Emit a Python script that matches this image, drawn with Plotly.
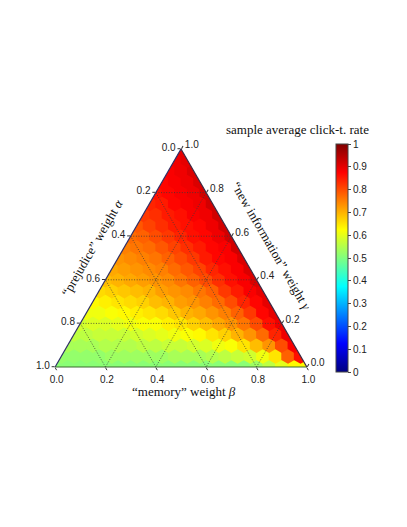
import plotly.graph_objects as go

# grid of the simplex: gamma ("new information") rows, beta ("memory") columns
gamma_levels = [0.0, 0.05, 0.1, 0.15, 0.2, 0.25, 0.3, 0.35, 0.4, 0.45, 0.5,
                0.55, 0.6, 0.65, 0.7, 0.75, 0.8, 0.85, 0.9, 0.95, 1.0]
beta_levels = [0.0, 0.05, 0.1, 0.15, 0.2, 0.25, 0.3, 0.35, 0.4, 0.45, 0.5,
               0.55, 0.6, 0.65, 0.7, 0.75, 0.8, 0.85, 0.9, 0.95, 1.0]

# sample average click-through rate, row k = gamma_levels[k], beta from 0 up to 1 - gamma
click_rate_rows = [
    [0.51, 0.51, 0.51, 0.51, 0.51, 0.51, 0.51, 0.51, 0.51, 0.51, 0.51,
     0.51, 0.51, 0.51, 0.51, 0.51, 0.53, 0.56, 0.60, 0.63, 0.63],
    [0.52, 0.52, 0.52, 0.52, 0.53, 0.53, 0.53, 0.53, 0.53, 0.54, 0.54,
     0.54, 0.55, 0.56, 0.57, 0.58, 0.61, 0.65, 0.78, 0.86],
    [0.54, 0.54, 0.54, 0.55, 0.55, 0.55, 0.56, 0.56, 0.57, 0.57, 0.58,
     0.59, 0.61, 0.62, 0.65, 0.69, 0.73, 0.80, 0.88],
    [0.56, 0.56, 0.57, 0.57, 0.57, 0.58, 0.59, 0.60, 0.61, 0.62, 0.63,
     0.65, 0.67, 0.70, 0.73, 0.77, 0.84, 0.89],
    [0.58, 0.59, 0.59, 0.60, 0.61, 0.62, 0.62, 0.64, 0.65, 0.67, 0.69,
     0.71, 0.73, 0.76, 0.80, 0.86, 0.89],
    [0.61, 0.61, 0.62, 0.63, 0.64, 0.65, 0.66, 0.68, 0.70, 0.71, 0.73,
     0.75, 0.78, 0.82, 0.87, 0.90],
    [0.63, 0.64, 0.65, 0.66, 0.67, 0.69, 0.70, 0.72, 0.73, 0.75, 0.77,
     0.80, 0.84, 0.87, 0.90],
    [0.66, 0.67, 0.68, 0.69, 0.70, 0.72, 0.73, 0.74, 0.76, 0.78, 0.82,
     0.85, 0.88, 0.90],
    [0.69, 0.70, 0.71, 0.72, 0.73, 0.74, 0.76, 0.78, 0.80, 0.83, 0.86,
     0.88, 0.91],
    [0.71, 0.72, 0.73, 0.74, 0.75, 0.77, 0.79, 0.81, 0.84, 0.86, 0.88, 0.91],
    [0.73, 0.74, 0.75, 0.76, 0.78, 0.80, 0.82, 0.85, 0.87, 0.88, 0.91],
    [0.75, 0.76, 0.77, 0.79, 0.81, 0.83, 0.85, 0.87, 0.88, 0.92],
    [0.77, 0.78, 0.80, 0.82, 0.84, 0.86, 0.87, 0.89, 0.92],
    [0.79, 0.81, 0.83, 0.85, 0.86, 0.87, 0.89, 0.92],
    [0.82, 0.83, 0.85, 0.86, 0.88, 0.89, 0.92],
    [0.84, 0.85, 0.87, 0.88, 0.89, 0.92],
    [0.86, 0.87, 0.88, 0.89, 0.92],
    [0.87, 0.88, 0.89, 0.91],
    [0.88, 0.89, 0.91],
    [0.89, 0.90],
    [0.90],
]

edge_tick_vals = [0.0, 0.2, 0.4, 0.6, 0.8, 1.0]
edge_tick_text = ["1.0", "0.8", "0.6", "0.4", "0.2", "0.0"]
grid_levels = [0.2, 0.4, 0.6, 0.8]
cbar_tick_vals = [0, 0.1, 0.2, 0.3, 0.4, 0.5, 0.6, 0.7, 0.8, 0.9, 1]
cbar_tick_text = ["0", "0.1", "0.2", "0.3", "0.4", "0.5", "0.6", "0.7", "0.8", "0.9", "1"]

jet = [
    [0.0, "rgb(0,0,128)"],
    [0.125, "rgb(0,0,255)"],
    [0.375, "rgb(0,255,255)"],
    [0.625, "rgb(255,255,0)"],
    [0.875, "rgb(255,0,0)"],
    [1.0, "rgb(128,0,0)"],
]

# the page body adds an 8px margin, so pixel targets are shifted by it
W, H, OFF = 407, 527, 8


def px(x):
    return (x - OFF) / W


def py(y):
    return 1 - (y - OFF) / H


# a = gamma (top corner), b = alpha (bottom left), c = beta (bottom right)
a_vals, b_vals, c_vals, rate = [], [], [], []
for gamma, row in zip(gamma_levels, click_rate_rows):
    for beta, val in zip(beta_levels, row):
        a_vals.append(gamma)
        c_vals.append(beta)
        b_vals.append(round(max(0.0, 1.0 - gamma - beta), 6))
        rate.append(val)

tick_font = dict(family="Liberation Sans, Arial, sans-serif", size=10, color="#222")
serif = dict(family="Liberation Serif, Times New Roman, serif", size=13, color="#111")

fig = go.Figure(
    go.Scatterternary(
        a=a_vals,
        b=b_vals,
        c=c_vals,
        mode="markers",
        cliponaxis=True,
        hoverinfo="skip",
        marker=dict(
            symbol="hexagon",
            size=15.5,
            color=rate,
            colorscale=jet,
            cmin=0,
            cmax=1,
            line=dict(width=0),
            colorbar=dict(
                x=px(336),
                xanchor="left",
                y=py(258),
                yanchor="middle",
                len=228 / H,
                lenmode="fraction",
                ypad=0,
                xpad=0,
                thickness=12,
                outlinecolor="#444",
                outlinewidth=1,
                tickmode="array",
                tickvals=cbar_tick_vals,
                ticktext=cbar_tick_text,
                ticks="outside",
                ticklen=3,
                tickcolor="#444",
                tickfont=tick_font,
            ),
        ),
        showlegend=False,
    )
)

# dotted grid drawn over the colour field (ternary grids sit below traces)
grid_a, grid_b, grid_c = [], [], []
for g in grid_levels:
    grid_a += [g, g, None, 0, 1 - g, None, 1 - g, 0, None]
    grid_b += [1 - g, 0, None, g, g, None, 0, 1 - g, None]
    grid_c += [0, 1 - g, None, 1 - g, 0, None, g, g, None]
fig.add_trace(
    go.Scatterternary(
        a=grid_a, b=grid_b, c=grid_c,
        mode="lines",
        line=dict(color="#3a3a3a", width=0.8, dash="1px,1.6px"),
        hoverinfo="skip",
        showlegend=False,
        connectgaps=False,
    )
)


def edge_axis(line_color):
    return dict(
        title=dict(text=""),
        min=0,
        tickmode="array",
        tickvals=edge_tick_vals,
        ticktext=edge_tick_text,
        ticks="outside",
        ticklen=3,
        tickcolor="#333",
        tickfont=tick_font,
        showgrid=False,
        showline=True,
        linecolor=line_color,
        linewidth=1.2,
        layer="above traces",
    )


def note(text, x, y, angle=0):
    return dict(text=text, x=px(x), y=py(y), xref="paper", yref="paper",
                xanchor="center", yanchor="middle", showarrow=False,
                textangle=angle, font=serif)


fig.update_layout(
    width=W,
    height=H,
    margin=dict(l=0, r=0, t=0, b=0),
    paper_bgcolor="white",
    ternary=dict(
        sum=1,
        bgcolor="white",
        domain=dict(x=[px(55), px(307)], y=[py(367), py(149)]),
        aaxis=edge_axis("#2e2e66"),
        baxis=edge_axis("#3d6b30"),
        caxis=edge_axis("#3a2a44"),
    ),
    annotations=[
        note("sample average click-t. rate", 297, 130),
        note("“prejudice” weight <i>α</i>", 92, 247, -60),
        note("“new information” weight <i>γ</i>", 272, 246, 60),
        note("“memory” weight <i>β</i>", 184, 391),
    ],
)

fig.write_html("out.html")
